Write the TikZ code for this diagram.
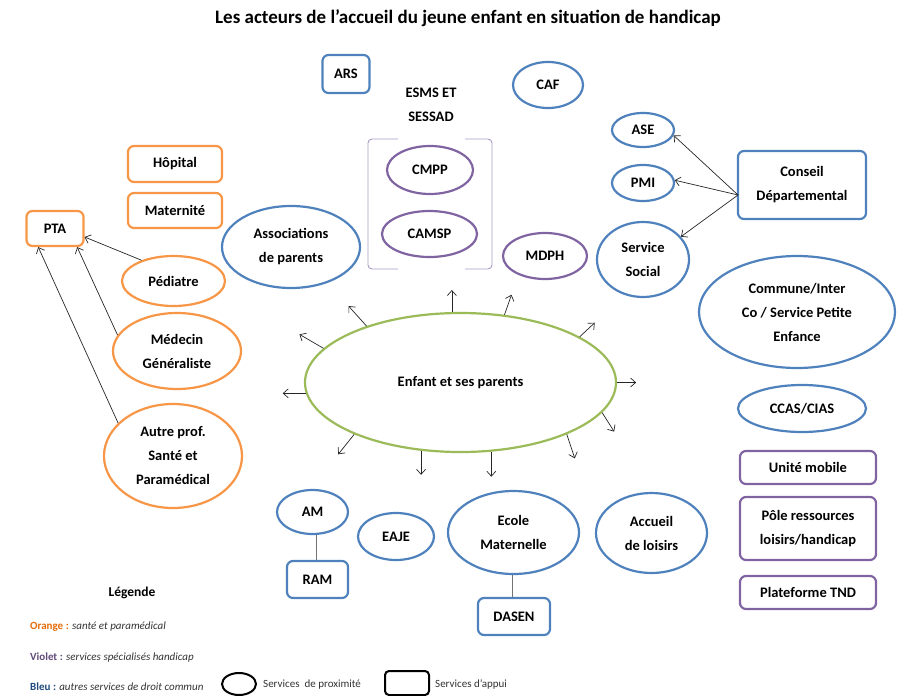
\documentclass[tikz,border=0pt]{standalone}
\usepackage{fontspec}
\setmainfont{Carlito}
\usetikzlibrary{shapes.geometric,arrows.meta}
\definecolor{orng}{HTML}{F79646}
\definecolor{blu}{HTML}{4F81BD}
\definecolor{purp}{HTML}{8064A2}
\definecolor{grn}{HTML}{9BBB59}
\definecolor{lpurp}{HTML}{A99BC6}
\definecolor{legor}{HTML}{E46C0A}
\definecolor{legvi}{HTML}{5F497A}
\definecolor{legbl}{HTML}{1F497D}
\definecolor{legtx}{HTML}{333333}
\tikzset{
  base/.style={line width=2.2pt, inner sep=0pt, align=center, font=\fontsize{14.5}{24}\selectfont\bfseries, text=black},
  oval/.style={base, ellipse, draw},
  box/.style={base, rectangle, rounded corners=6pt, draw},
  orngshape/.style={draw=orng},
  blushape/.style={draw=blu},
  purpshape/.style={draw=purp},
  ray/.style={-{Straight Barb[length=5pt,width=9pt]}, line width=0.7pt, draw=black!85},
  link/.style={line width=1pt, draw=black!55},
  legtext/.style={anchor=west, inner sep=0pt, font=\fontsize{11}{13}\selectfont, text=legtx},
}
\begin{document}
\begin{tikzpicture}[x=1pt,y=-1pt]
\useasboundingbox (0,0) rectangle (897,696);
% title
\node[inner sep=0pt, font=\fontsize{19}{22}\selectfont\bfseries] (title) at (468,18) {Les acteurs de l’accueil du jeune enfant en situation de handicap};

% top
\node[box, blushape, minimum width=47pt, minimum height=38pt] (ars) at (346,74) {ARS};
\node[oval, blushape, minimum width=70pt, minimum height=46pt] (caf) at (548,85) {CAF};
\node[inner sep=0pt, align=center, font=\fontsize{14.5}{24}\selectfont\bfseries] (esms) at (431,105) {ESMS ET\\SESSAD};
\draw[lpurp, line width=0.9pt, rounded corners=4pt] (398,139) -- (368,139) -- (368,269) -- (398,269);
\draw[lpurp, line width=0.9pt, rounded corners=4pt] (465,139) -- (492,139) -- (492,269) -- (465,269);
\node[oval, purpshape, minimum width=86pt, minimum height=48pt] (cmpp) at (430,170) {CMPP};
\node[oval, purpshape, minimum width=95pt, minimum height=46pt] (camsp) at (429.5,234) {CAMSP};
\node[oval, purpshape, minimum width=84pt, minimum height=46pt] (mdph) at (545,256) {MDPH};
\node[oval, blushape, minimum width=138pt, minimum height=82pt] (asso) at (291,247) {Associations\\de parents};

% left, health
\node[box, orngshape, minimum width=94pt, minimum height=36pt] (hop) at (175,164) {Hôpital};
\node[box, orngshape, minimum width=94pt, minimum height=35pt] (mat) at (175,210.5) {Maternité};
\node[box, orngshape, minimum width=57pt, minimum height=35pt] (pta) at (55,228.5) {PTA};
\node[oval, orngshape, minimum width=103pt, minimum height=50pt] (ped) at (173.5,281) {Pédiatre};
\node[oval, orngshape, minimum width=128pt, minimum height=76pt] (med) at (177,351) {Médecin\\Généraliste};
\node[oval, orngshape, minimum width=138pt, minimum height=104pt] (autre) at (173,456) {Autre prof.\\Santé et\\Paramédical};
\draw[ray] (ped.147) -- (pta.-16);
\draw[ray] (med.165) -- (pta.-40);
\draw[ray] (autre.149) -- (pta.-132);

% right
\node[oval, blushape, minimum width=62pt, minimum height=34pt] (ase) at (643,130) {ASE};
\node[oval, blushape, minimum width=62pt, minimum height=36pt] (pmi) at (643,183) {PMI};
\node[oval, blushape, minimum width=92pt, minimum height=75pt] (ss) at (643,259.5) {Service\\Social};
\node[box, blushape, minimum width=128pt, minimum height=68pt] (cd) at (802,185) {Conseil\\Départemental};
\coordinate (cdp) at (738,195);
\draw[ray] (cdp) -- (ase.-10);
\draw[ray] (cdp) -- (pmi.5);
\draw[ray] (cdp) -- (ss.31);
\node[oval, blushape, minimum width=196pt, minimum height=112pt] (commune) at (797,312) {Commune/Inter\\Co / Service Petite\\Enfance};
\node[oval, blushape, minimum width=128pt, minimum height=47pt] (ccas) at (802,408.5) {CCAS/CIAS};
\node[box, purpshape, minimum width=136pt, minimum height=33pt] (um) at (808,467.5) {Unité mobile};
\node[box, purpshape, minimum width=136pt, minimum height=63pt] (pole) at (808,528.5) {Pôle ressources\\loisirs/handicap};
\node[box, purpshape, minimum width=136pt, minimum height=33pt] (tnd) at (808,592.5) {Plateforme TND};

% bottom
\node[oval, blushape, minimum width=71pt, minimum height=44pt] (am) at (312.5,512) {AM};
\node[box, blushape, minimum width=61pt, minimum height=37pt] (ram) at (317.5,579.5) {RAM};
\draw[link] (am.south -| 316,0) -- (ram.north -| 316,0);
\node[oval, blushape, minimum width=76pt, minimum height=47pt] (eaje) at (396,536.5) {EAJE};
\node[oval, blushape, minimum width=131pt, minimum height=83pt] (ecole) at (513.5,532.5) {Ecole\\Maternelle};
\node[box, blushape, minimum width=72pt, minimum height=37pt] (dasen) at (514,616.5) {DASEN};
\draw[link] (ecole.south -| 512,0) -- (dasen.north -| 512,0);
\node[oval, blushape, minimum width=111pt, minimum height=80pt] (loisirs) at (651.5,533) {Accueil\\de loisirs};

% centre
\node[oval, draw=grn, minimum width=311pt, minimum height=139pt] (enf) at (460.5,382.5) {Enfant et ses parents};
\draw[ray] (enf.97) -- ++(0,-22);
\draw[ray] (enf.57) -- ++(7,-20);
\draw[ray] (enf.21) -- ++(15,-14);
\draw[ray] (enf.0) -- ++(19,0);
\draw[ray] (enf.-12) -- ++(12,19);
\draw[ray] (enf.-26) -- ++(8,24);
\draw[ray] (enf.-66) -- ++(0,25);
\draw[ray] (enf.-120) -- ++(0,24);
\draw[ray] (enf.206) -- ++(-16,20);
\draw[ray] (enf.184) -- ++(-23,0);
\draw[ray] (enf.166) -- ++(-24,-14);
\draw[ray] (enf.149) -- ++(-18,-20);

% legend
\node[inner sep=0pt, font=\fontsize{13.5}{16}\selectfont\bfseries] (leg) at (132,593) {Légende};
\node[legtext] (l1) at (30,627) {\textbf{\color{legor}Orange :} \textit{santé et paramédical}};
\node[legtext] (l2) at (30,658) {\textbf{\color{legvi}Violet :} \textit{services spécialisés handicap}};
\node[legtext] (l3) at (30,687) {\textbf{\color{legbl}Bleu :} \textit{autres services de droit commun}};
\node[ellipse, draw=black, line width=2pt, minimum width=34pt, minimum height=22pt, inner sep=0pt] (lov) at (239,684) {};
\node[legtext] (lovt) at (263,685) {Services \ de proximité};
\node[rectangle, rounded corners=4pt, draw=black, line width=2pt, minimum width=44pt, minimum height=24pt, inner sep=0pt] (lbox) at (407,683) {};
\node[legtext] (lboxt) at (435,685) {Services d’appui};
\end{tikzpicture}
\end{document}
